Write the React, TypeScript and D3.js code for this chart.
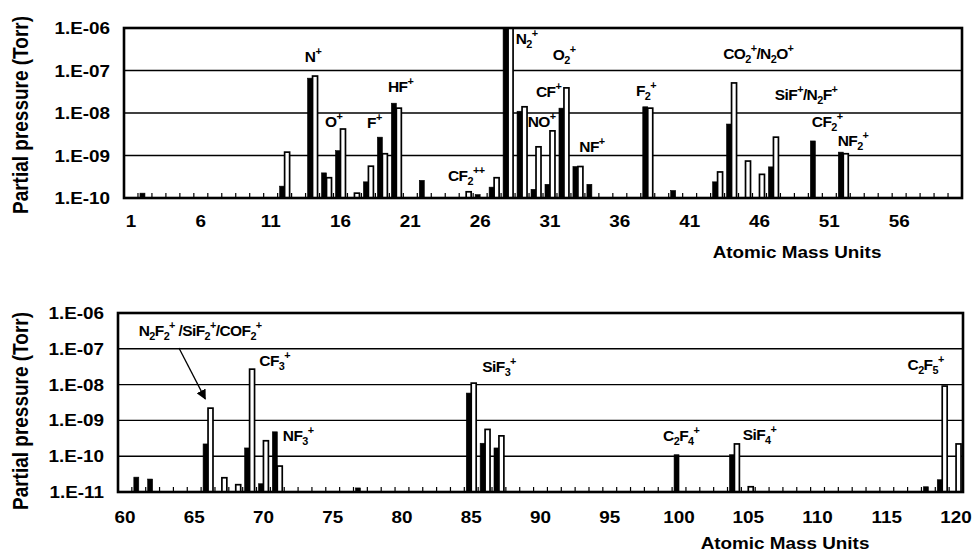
import React, { useEffect, useRef } from "react";
import * as d3 from "d3";

// upper scan, masses 1-60
const topCategories = d3.range(1, 61);
const topMasses = [2, 12, 14, 15, 16, 17, 18, 19, 20, 22, 25, 26, 27, 28, 29, 30, 31, 32, 33, 34, 38, 40, 43, 44, 45, 46, 47, 50, 52];
const topBlack = [1.3e-10, 1.9e-10, 6.6e-8, 3.9e-10, 1.3e-9, null, 2.4e-10, 2.7e-9, 1.7e-8, 2.6e-10, null, 1.2e-10, 1.8e-10, 1e-6, 1.1e-8, 1.6e-10, 2.1e-10, 1.3e-8, 5.5e-10, 2.1e-10, 1.4e-8, 1.5e-10, 2.4e-10, 5.5e-9, null, null, 5.4e-10, 2.2e-9, 1.2e-9];
const topWhite = [null, 1.2e-9, 7.4e-8, 3.0e-10, 4.2e-9, 1.3e-10, 5.6e-10, 1.1e-9, 1.3e-8, null, 1.4e-10, null, 3.0e-10, 1e-6, 1.4e-8, 1.6e-9, 3.8e-9, 3.9e-8, 5.5e-10, null, 1.3e-8, null, 4.1e-10, 5.1e-8, 7.4e-10, 3.6e-10, 2.7e-9, null, 1.1e-9];
const topTicks = [1e-6, 1e-7, 1e-8, 1e-9, 1e-10];
const topNoteLabels = ["N^+", "O^+", "F^+", "HF^+", "CF_2^{++}", "N_2^+", "O_2^+", "CF^+", "NO^+", "NF^+", "F_2^+", "CO_2^+/N_2O^+", "SiF^+/N_2F^+", "CF_2^+", "NF_2^+"];
const topNoteMass = [13.45, 14.9, 17.9, 19.4, 23.7, 28.55, 31.2, 30.0, 29.4, 33.1, 37.15, 43.4, 47.1, 49.75, 51.6];
const topNotePressure = [1.6e-7, 4.7e-9, 4.5e-9, 3.1e-8, 2.5e-10, 4.2e-7, 1.8e-7, 2.4e-8, 4.7e-9, 1.2e-9, 2.5e-8, 1.9e-7, 2.0e-8, 4.7e-9, 1.7e-9];

// lower scan, masses 60-120
const bottomCategories = d3.range(60, 121);
const bottomMasses = [61, 62, 66, 67, 68, 69, 70, 71, 77, 85, 86, 87, 100, 104, 105, 118, 119, 120];
const bottomBlack = [2.6e-11, 2.3e-11, 2.2e-10, null, null, 1.7e-10, 1.7e-11, 4.8e-10, 1.3e-11, 5.8e-9, 2.3e-10, 1.7e-10, 1.1e-10, 1.1e-10, null, 1.4e-11, 2.2e-11, null];
const bottomWhite = [null, null, 2.2e-9, 2.5e-11, 1.6e-11, 2.7e-8, 2.7e-10, 5.3e-11, null, 1.1e-8, 5.6e-10, 3.7e-10, null, 2.2e-10, 1.4e-11, null, 9.1e-9, 2.2e-10];
const bottomTicks = [1e-6, 1e-7, 1e-8, 1e-9, 1e-10, 1e-11];
const bottomNoteLabels = ["N_2F_2^+ /SiF_2^+/COF_2^+", "CF_3^+", "NF_3^+", "SiF_3^+", "C_2F_4^+", "SiF_4^+", "C_2F_5^+"];
const bottomNoteMass = [61.0, 69.7, 71.4, 85.8, 98.85, 104.6, 116.5];
const bottomNotePressure = [2.3e-7, 3.3e-8, 2.6e-10, 2.2e-8, 2.6e-10, 2.8e-10, 2.6e-8];
const arrowMass = [63.9, 65.8];
const arrowPressure = [1.05e-7, 4.0e-9];

const FONT = "'Liberation Sans', Arial, sans-serif";
const STRETCH = 1.18;

const fmtExp = (v) => {
  const e = Math.round(Math.log10(v));
  return `1.E${e < 0 ? "-" : "+"}${String(Math.abs(e)).padStart(2, "0")}`;
};

// "CF_2^{++}" -> tspans with sub/superscripts
function richText(g, str, size) {
  const text = g
    .append("text")
    .attr("font-size", size)
    .attr("font-family", FONT)
    .attr("font-weight", "bold")
    .attr("letter-spacing", -0.6);
  const re = /([_^])(\{[^}]*\}|.)|([^_^]+)/g;
  let shift = 0;
  let m;
  while ((m = re.exec(str))) {
    if (m[3]) {
      text.append("tspan").attr("dy", -shift).text(m[3]);
      shift = 0;
    } else {
      const target = m[1] === "_" ? 4 : -7;
      text
        .append("tspan")
        .attr("dy", target - shift)
        .attr("font-size", size * 0.7)
        .text(m[2].replace(/[{}]/g, ""));
      shift = target;
    }
  }
  return text;
}

function drawPanel(root, p) {
  const g = root.append("g");
  const x = d3.scaleBand().domain(p.categories).range([p.left, p.right]).padding(0);
  const x1 = d3.scaleBand().domain(["black", "white"]).range([0, x.bandwidth()]).paddingOuter(0.4);
  const y = d3.scaleLog().domain([p.ticks[p.ticks.length - 1], p.ticks[0]]).range([p.bottom, p.top]);
  const first = p.categories[0];
  const last = p.categories[p.categories.length - 1];
  const xc = d3
    .scaleLinear()
    .domain([first, last])
    .range([x(first) + x.bandwidth() / 2, x(last) + x.bandwidth() / 2]);

  // grid
  g.selectAll(".grid")
    .data(p.ticks.slice(1, -1))
    .enter()
    .append("line")
    .attr("x1", p.left)
    .attr("x2", p.right)
    .attr("y1", (d) => y(d))
    .attr("y2", (d) => y(d))
    .attr("stroke", "#000")
    .attr("stroke-width", 1.4);

  // bars
  const floor = p.ticks[p.ticks.length - 1];
  const bars = [];
  p.masses.forEach((m, i) => {
    if (p.black[i] != null) bars.push({ m, key: "black", v: p.black[i] });
    if (p.white[i] != null) bars.push({ m, key: "white", v: p.white[i] });
  });
  g.selectAll(".bar")
    .data(bars.filter((d) => d.v > floor))
    .enter()
    .append("rect")
    .attr("x", (d) => x(d.m) + x1(d.key))
    .attr("width", x1.bandwidth())
    .attr("y", (d) => y(Math.min(d.v, p.ticks[0])))
    .attr("height", (d) => p.bottom - y(Math.min(d.v, p.ticks[0])))
    .attr("fill", (d) => (d.key === "black" ? "#000" : "#fff"))
    .attr("stroke", "#000")
    .attr("stroke-width", (d) => (d.key === "black" ? 0.6 : 1.7));

  // category ticks
  g.selectAll(".tick")
    .data(p.categories.slice(1))
    .enter()
    .append("line")
    .attr("x1", (d) => x(d))
    .attr("x2", (d) => x(d))
    .attr("y1", p.bottom)
    .attr("y2", p.bottom - 5)
    .attr("stroke", "#000")
    .attr("stroke-width", 1.2);

  // frame
  g.append("rect")
    .attr("x", p.left)
    .attr("y", p.top)
    .attr("width", p.right - p.left)
    .attr("height", p.bottom - p.top)
    .attr("fill", "none")
    .attr("stroke", "#000")
    .attr("stroke-width", 2.6);

  // y tick labels
  g.selectAll(".ylab")
    .data(p.ticks)
    .enter()
    .append("text")
    .attr("transform", (d) => `translate(${p.yLabelX},${y(d) + 6}) scale(${STRETCH},1)`)
    .attr("text-anchor", "end")
    .attr("font-family", FONT)
    .attr("font-weight", "bold")
    .attr("font-size", 16)
    .text(fmtExp);

  // x tick labels
  g.selectAll(".xlab")
    .data(p.categories.filter((c) => (c - first) % 5 === 0))
    .enter()
    .append("text")
    .attr("transform", (d) => `translate(${x(d) + x.bandwidth() / 2},${p.xLabelY}) scale(${STRETCH},1)`)
    .attr("text-anchor", "middle")
    .attr("font-family", FONT)
    .attr("font-weight", "bold")
    .attr("font-size", 16)
    .text((d) => d);

  g.append("text")
    .attr("transform", `translate(${p.xTitleX},${p.xTitleY}) scale(${STRETCH},1)`)
    .attr("text-anchor", "middle")
    .attr("font-family", FONT)
    .attr("font-weight", "bold")
    .attr("font-size", 16)
    .text("Atomic Mass Units");

  g.append("text")
    .attr("transform", `translate(28,${p.yTitleY}) scale(${STRETCH},1) rotate(-90)`)
    .attr("text-anchor", "middle")
    .attr("font-family", FONT)
    .attr("font-weight", "bold")
    .attr("font-size", 19)
    .text("Partial pressure (Torr)");

  // peak labels
  p.noteLabels.forEach((lab, i) => {
    const ng = g.append("g").attr("transform", `translate(${xc(p.noteMass[i])},${y(p.notePressure[i])})`);
    richText(ng, lab, 15.5);
  });

  if (p.arrow) {
    const [m0, m1] = p.arrow.mass;
    const [v0, v1] = p.arrow.pressure;
    g.append("line")
      .attr("x1", xc(m0))
      .attr("y1", y(v0))
      .attr("x2", xc(m1))
      .attr("y2", y(v1))
      .attr("stroke", "#000")
      .attr("stroke-width", 1.3)
      .attr("marker-end", "url(#arrowhead)");
  }
}

const App = () => {
  const svgRef = useRef(null);

  useEffect(() => {
    const svg = d3.select(svgRef.current);
    svg.selectAll("*").remove();

    svg
      .append("defs")
      .append("marker")
      .attr("id", "arrowhead")
      .attr("viewBox", "0 0 10 10")
      .attr("refX", 9)
      .attr("refY", 5)
      .attr("markerWidth", 10)
      .attr("markerHeight", 10)
      .attr("markerUnits", "userSpaceOnUse")
      .attr("orient", "auto")
      .append("path")
      .attr("d", "M0,0 L10,5 L0,10 Z")
      .attr("fill", "#000");

    drawPanel(svg, {
      categories: topCategories,
      masses: topMasses,
      black: topBlack,
      white: topWhite,
      ticks: topTicks,
      noteLabels: topNoteLabels,
      noteMass: topNoteMass,
      notePressure: topNotePressure,
      left: 124,
      right: 962,
      top: 28,
      bottom: 198,
      yLabelX: 110,
      xLabelY: 227,
      xTitleX: 797,
      xTitleY: 258,
      yTitleY: 115,
    });

    drawPanel(svg, {
      categories: bottomCategories,
      masses: bottomMasses,
      black: bottomBlack,
      white: bottomWhite,
      ticks: bottomTicks,
      noteLabels: bottomNoteLabels,
      noteMass: bottomNoteMass,
      notePressure: bottomNotePressure,
      arrow: { mass: arrowMass, pressure: arrowPressure },
      left: 118,
      right: 963,
      top: 313,
      bottom: 492,
      yLabelX: 104,
      xLabelY: 523,
      xTitleX: 785,
      xTitleY: 549,
      yTitleY: 411,
    });
  }, []);

  return (
    <svg
      ref={svgRef}
      width={972}
      height={553}
      style={{ position: "absolute", left: 0, top: 0, background: "#fff" }}
    ></svg>
  );
};

export default App;
